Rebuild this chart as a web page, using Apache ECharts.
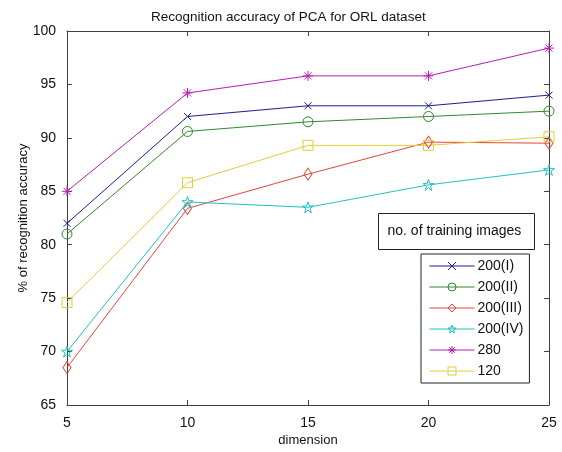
<!DOCTYPE html>
<html>
<head>
<meta charset="utf-8">
<script src="https://cdn.jsdelivr.net/npm/echarts@6/dist/echarts.min.js"></script>
<style>html,body{margin:0;padding:0;background:#fff}#c{width:562px;height:452px}</style>
</head>
<body>
<div id="c"></div>
<script>
var dims = [5, 10, 15, 20, 25];
var seriesNames = ['200(I)', '200(II)', '200(III)', '200(IV)', '280', '120'];
var s200I   = [82.0, 92.0, 93.0, 93.0, 94.0];
var s200II  = [81.0, 90.6, 91.5, 92.0, 92.5];
var s200III = [68.5, 83.4, 86.6, 89.6, 89.5];
var s200IV  = [70.0, 84.0, 83.5, 85.6, 87.0];
var s280    = [85.0, 94.2, 95.8, 95.8, 98.4];
var s120    = [74.6, 85.8, 89.3, 89.3, 90.1];
var yTicks = [65, 70, 75, 80, 85, 90, 95, 100];
var xTicks = [5, 10, 15, 20, 25];

var values = [s200I, s200II, s200III, s200IV, s280, s120];
var colors = ['#1c1c8f', '#2f8a2f', '#e0463c', '#22c0c0', '#b41eb4', '#e2cc3a'];
var STAR = 'path://M50,2L61.23,36.55L97.55,36.55L68.16,57.9L79.39,92.45L50,71.1L20.61,92.45L31.84,57.9L2.45,36.55L38.77,36.55Z';
var symbols = ['path://M0,0L10,10M10,0L0,10', 'circle', 'diamond', STAR,
  'path://M50,0L50,100M0,50L100,50M15,15L85,85M85,15L15,85', 'rect'];
var sizes = [7, 10, [8, 12], 11, 10, 10];

var FONT = '"Liberation Sans", Arial, sans-serif';

var series = seriesNames.map(function (n, i) {
  return {
    name: n, type: 'line',
    xAxisIndex: 0, yAxisIndex: 0,
    data: dims.map(function (d, j) { return [d, values[i][j]]; }),
    symbol: symbols[i], symbolSize: sizes[i],
    showAllSymbol: true,
    lineStyle: { color: colors[i], width: 1 },
    itemStyle: { color: 'none', borderColor: colors[i], borderWidth: 1 },
    emphasis: { disabled: true },
    animation: false
  };
});

var legendData = seriesNames.map(function (n, i) {
  return {
    name: n,
    itemStyle: { color: 'rgba(255,255,255,0)', borderColor: colors[i], borderWidth: 1 },
    lineStyle: { color: colors[i], width: 1 }
  };
});

var axCommon = {
  axisLine: { show: true, lineStyle: { color: '#404040', width: 1 } },
  axisTick: { show: true, inside: true, length: 5, lineStyle: { color: '#404040' } },
  splitLine: { show: false }
};

var chart = echarts.init(document.getElementById('c'), null, { renderer: 'canvas' });
chart.setOption({
  backgroundColor: '#fff',
  animation: false,
  title: {
    text: 'Recognition accuracy of PCA for ORL dataset',
    left: 146, top: 5,
    textStyle: { fontFamily: FONT, fontSize: 13.5, fontWeight: 'normal', color: '#111' }
  },
  grid: { left: 67, right: 13, top: 31, bottom: 41, containLabel: false },
  xAxis: [
    Object.assign({
      type: 'value', min: 5, max: 25, interval: 5, position: 'bottom',
      name: 'dimension', nameLocation: 'middle', nameGap: 29, nameMoveOverlap: false,
      nameTextStyle: { fontFamily: FONT, fontSize: 13, color: '#111' },
      axisLabel: { fontFamily: FONT, fontSize: 14, color: '#111', margin: 11,
        formatter: function (v) { return xTicks.indexOf(v) >= 0 ? String(v) : ''; } }
    }, axCommon),
    Object.assign({
      type: 'value', min: 5, max: 25, interval: 5, position: 'top',
      axisLabel: { show: false }
    }, axCommon)
  ],
  yAxis: [
    Object.assign({
      type: 'value', min: 65, max: 100, interval: 5, position: 'left',
      name: '% of recognition accuracy', nameLocation: 'middle', nameGap: 37, nameMoveOverlap: false,
      nameTextStyle: { fontFamily: FONT, fontSize: 13, color: '#111' },
      axisLabel: { fontFamily: FONT, fontSize: 14, color: '#111', margin: 11,
        formatter: function (v) { return yTicks.indexOf(v) >= 0 ? String(v) : ''; } }
    }, axCommon),
    Object.assign({
      type: 'value', min: 65, max: 100, interval: 5, position: 'right',
      axisLabel: { show: false }
    }, axCommon)
  ],
  legend: {
    orient: 'vertical', left: 421, top: 254,
    data: legendData,
    itemWidth: 45, itemHeight: 10, itemGap: 7,
    padding: [5, 6, 5, 8],
    borderColor: '#222', borderWidth: 1, backgroundColor: '#fff',
    textStyle: { fontFamily: FONT, fontSize: 14, color: '#111', padding: [0, 0, 0, -2] },
    selectedMode: false
  },
  graphic: [{
    type: 'group', left: 378, top: 213,
    children: [
      { type: 'rect', shape: { x: 0, y: 0, width: 156, height: 36 },
        style: { fill: '#fff', stroke: '#222', lineWidth: 1 } },
      { type: 'text', x: 9, y: 18,
        style: { text: 'no. of training images', fill: '#111', font: '14px ' + FONT,
          textVerticalAlign: 'middle', verticalAlign: 'middle' } }
    ]
  }],
  series: series
});
</script>
</body>
</html>
